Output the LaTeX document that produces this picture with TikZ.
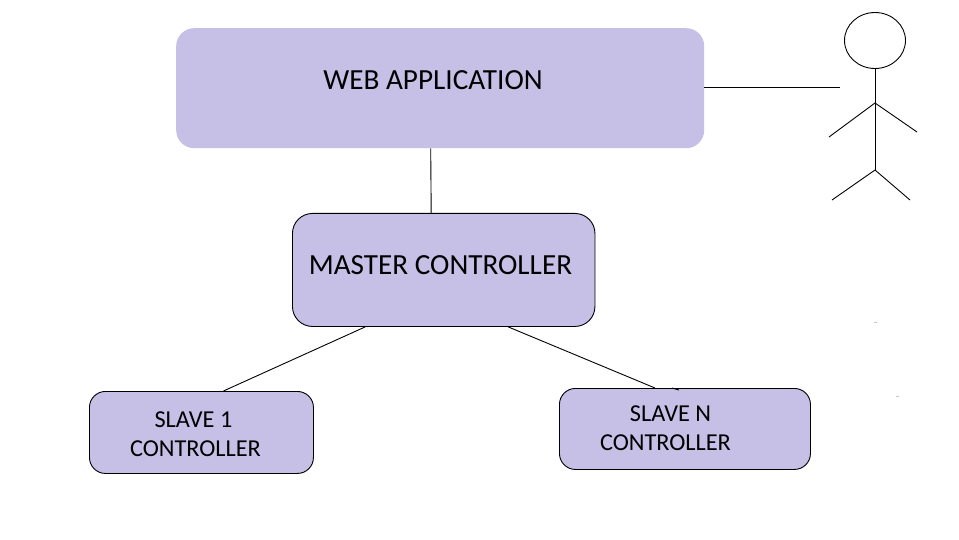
\documentclass[tikz,border=0pt]{standalone}
\usepackage{fontspec}
\setmainfont{Carlito}
\usetikzlibrary{calc,shapes.geometric}
\definecolor{boxfill}{RGB}{198,191,230}
\tikzset{
  box/.style={rectangle,fill=boxfill,inner sep=0pt,anchor=north west},
  edged/.style={draw=black,line width=0.9pt},
  wire/.style={draw=black,line width=0.9pt},
  biglabel/.style={font=\fontsize{29.2}{34}\selectfont,inner sep=0pt,text=black},
  smalllabel/.style={font=\fontsize{24.3}{29}\selectfont,inner sep=0pt,text=black},
  speck/.style={fill=boxfill,draw=none,inner sep=0pt,minimum width=3pt,minimum height=1pt}
}
\begin{document}
\begin{tikzpicture}[x=1pt,y=-1pt]
\useasboundingbox (0,0) rectangle (959,540);
\fill[white] (0,0) rectangle (959,540);
% boxes
\node[box,minimum width=528pt,minimum height=120pt,rounded corners=18pt] (web) at (176,28) {};
\node[box,edged,minimum width=302.5pt,minimum height=113pt,rounded corners=20pt] (master) at (292,213) {};
\node[box,edged,minimum width=224pt,minimum height=82pt,rounded corners=16pt] (slaveone) at (89,391) {};
\node[box,edged,minimum width=251pt,minimum height=81pt,rounded corners=16pt] (slaven) at (559,388) {};
% labels
\node[biglabel] (webtext) at (433,80) {WEB APPLICATION};
\node[biglabel] (mastertext) at (440.5,265) {MASTER CONTROLLER};
\node[smalllabel] (s1a) at (193.5,420) {SLAVE 1};
\node[smalllabel] (s1b) at (195.5,449) {CONTROLLER};
\node[smalllabel] (sna) at (670.5,414) {SLAVE N};
\node[smalllabel] (snb) at (665.5,442.5) {CONTROLLER};
% stick figure
\node[draw=black,line width=0.9pt,ellipse,minimum width=61pt,minimum height=56pt,inner sep=0pt] (head) at (875,40.5) {};
\coordinate (shoulder) at (875,103);
\coordinate (hip) at (875,170);
\coordinate (handl) at (829,137);
\coordinate (handr) at (917,132);
\coordinate (footl) at (832,200);
\coordinate (footr) at (910,200);
\coordinate (actorend) at (840,87);
\draw[wire] (head.south) -- (hip);
\draw[wire] (shoulder) -- (handl);
\draw[wire] (shoulder) -- (handr);
\draw[wire] (hip) -- (footl);
\draw[wire] (hip) -- (footr);
% connectors
\draw[wire] (web.east |- actorend) -- (actorend);
\draw[wire] ($(web.south)+(-9.5,0)$) -- ($(master.north)+(-12.5,0)$);
\draw[wire] ($(master.south)+(-78.5,0)$) -- ($(slaveone.north)+(22,0)$);
\draw[wire] ($(master.south)+(64.5,0)$) -- ($(slaven.north)+(-30,0)$);
\draw[wire] ($(slaven.north)+(-13,0)$) -- ($(slaven.north)+(-6,2)$);
% specks
\node[speck] (speckone) at (875,322.5) {};
\node[speck] (specktwo) at (897.5,396.5) {};
\end{tikzpicture}
\end{document}
